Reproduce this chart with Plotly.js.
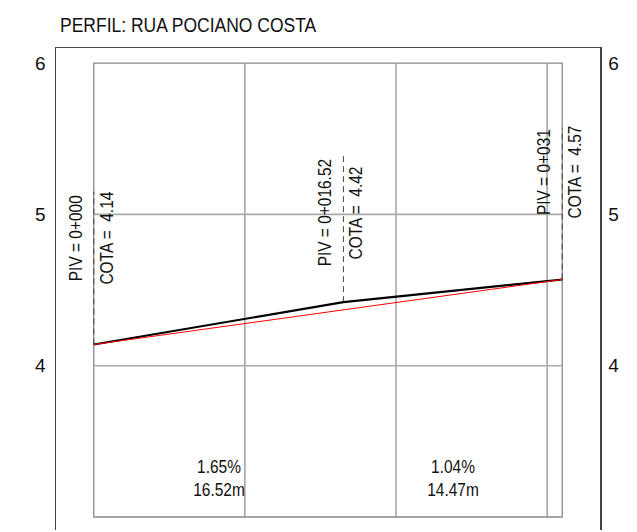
<!DOCTYPE html>
<html>
<head>
<meta charset="utf-8">
<script src="https://cdn.plot.ly/plotly-3.0.1.min.js"></script>
<style>
html,body{margin:0;padding:0;background:#fff;}
#chart{width:637px;height:532px;}
#chart .annotation-text{transform-box:fill-box;transform-origin:center;transform:scaleX(0.86);}
#chart .gtitle{transform-box:fill-box;transform-origin:left center;transform:scaleX(0.875);}
</style>
</head>
<body>
<div id="chart"></div>
<script>
// ---- data ----
var stations = [0, 16.52, 31];             // PIV stations (m)
var elevations = [4.14, 4.42, 4.57];       // COTA values
var pivLabels = ['PIV = 0+000', 'PIV = 0+016.52', 'PIV = 0+031'];
var cotaLabels = ['COTA =\u00a0 4.14', 'COTA =\u00a0 4.42', 'COTA =\u00a0 4.57'];
var dashTops = [5.15, 5.41, 5.57];         // top of dashed PIV markers
var gradeStart = [0, 31];                  // straight grade line (red)
var gradeElev = [4.14, 4.57];
var slopeTexts = ['1.65%', '1.04%'];
var lengthTexts = ['16.52m', '14.47m'];
var gridX = [10, 20, 30];
var gridY = [4, 5];
var frameX = [0, 31];
var frameY = [3, 6];
var yTicks = [4, 5, 6];
var titleText = 'PERFIL: RUA POCIANO COSTA';

var FONT = '"Liberation Sans", Arial, sans-serif';

var traces = [];
// dashed PIV markers
for (var i = 0; i < stations.length; i++) {
  traces.push({x: [stations[i], stations[i]], y: [elevations[i], dashTops[i]], mode: 'lines',
    line: {color: '#444', width: 1, dash: '6px,4px'}, hoverinfo: 'skip', showlegend: false});
}
traces.push({x: stations, y: elevations, mode: 'lines', line: {color: '#000', width: 2.2}, showlegend: false});
traces.push({x: gradeStart, y: gradeElev, mode: 'lines', line: {color: '#ff0000', width: 1}, showlegend: false});
traces.push({x: [frameX[0]], y: [frameY[0]], yaxis: 'y2', mode: 'markers', marker: {opacity: 0}, showlegend: false, hoverinfo: 'skip'});

var shapes = [];
shapes.push({type: 'rect', xref: 'x', yref: 'y', x0: frameX[0], x1: frameX[1], y0: frameY[0], y1: frameY[1],
  line: {color: '#888', width: 1.3}, layer: 'below'});
gridX.forEach(function (gx) {
  shapes.push({type: 'line', xref: 'x', yref: 'y', x0: gx, x1: gx, y0: frameY[0], y1: frameY[1],
    line: {color: '#888', width: 1.2}, layer: 'below'});
});
gridY.forEach(function (gy) {
  shapes.push({type: 'line', xref: 'x', yref: 'y', x0: frameX[0], x1: frameX[1], y0: gy, y1: gy,
    line: {color: '#aaa', width: 1.6}, layer: 'below'});
});

var labelY = [4.84, 5.01, 5.28];
var annotations = [];
for (var j = 0; j < stations.length; j++) {
  annotations.push({x: stations[j] - 1.2, y: labelY[j], xref: 'x', yref: 'y', text: pivLabels[j],
    textangle: -90, showarrow: false, xanchor: 'center', yanchor: 'middle',
    font: {family: FONT, size: 18, color: '#111'}});
  annotations.push({x: stations[j] + 0.85, y: labelY[j], xref: 'x', yref: 'y', text: cotaLabels[j],
    textangle: -90, showarrow: false, xanchor: 'center', yanchor: 'middle',
    font: {family: FONT, size: 18, color: '#111'}});
}
for (var k = 0; k < slopeTexts.length; k++) {
  annotations.push({x: (stations[k] + stations[k + 1]) / 2, y: 3.255, xref: 'x', yref: 'y',
    text: slopeTexts[k] + '<br>' + lengthTexts[k], showarrow: false, align: 'center',
    xanchor: 'center', yanchor: 'middle', font: {family: FONT, size: 18, color: '#111'}});
}

var yRange = [2.914, 6.1];
var layout = {
  width: 637, height: 532,
  margin: {l: 56, r: 37, t: 48, b: 2, pad: 0},
  paper_bgcolor: '#fff', plot_bgcolor: '#fff',
  title: {text: titleText, x: 60 / 637, xanchor: 'left', xref: 'container', y: 1 - 25 / 532, yanchor: 'middle',
    font: {family: FONT, size: 20, color: '#111'}},
  xaxis: {range: [-2.5, 33.5], showgrid: false, zeroline: false, showticklabels: false, ticks: '',
    showline: true, side: 'top', linecolor: '#444', linewidth: 1.5, fixedrange: true},
  yaxis: {range: yRange, tickvals: yTicks, ticktext: yTicks.map(String), showgrid: false, zeroline: false,
    showline: true, linecolor: '#444', linewidth: 1.5, ticks: '', ticklabelstandoff: 5,
    tickfont: {family: FONT, size: 19, color: '#111'}},
  yaxis2: {range: yRange, overlaying: 'y', side: 'right', tickvals: yTicks, ticktext: yTicks.map(String),
    showgrid: false, zeroline: false, showline: true, linecolor: '#444', linewidth: 1.5, ticks: '',
    ticklabelstandoff: 3, tickfont: {family: FONT, size: 19, color: '#111'}},
  shapes: shapes,
  annotations: annotations,
  showlegend: false
};
Plotly.newPlot('chart', traces, layout, {displayModeBar: false, staticPlot: true});
</script>
</body>
</html>
